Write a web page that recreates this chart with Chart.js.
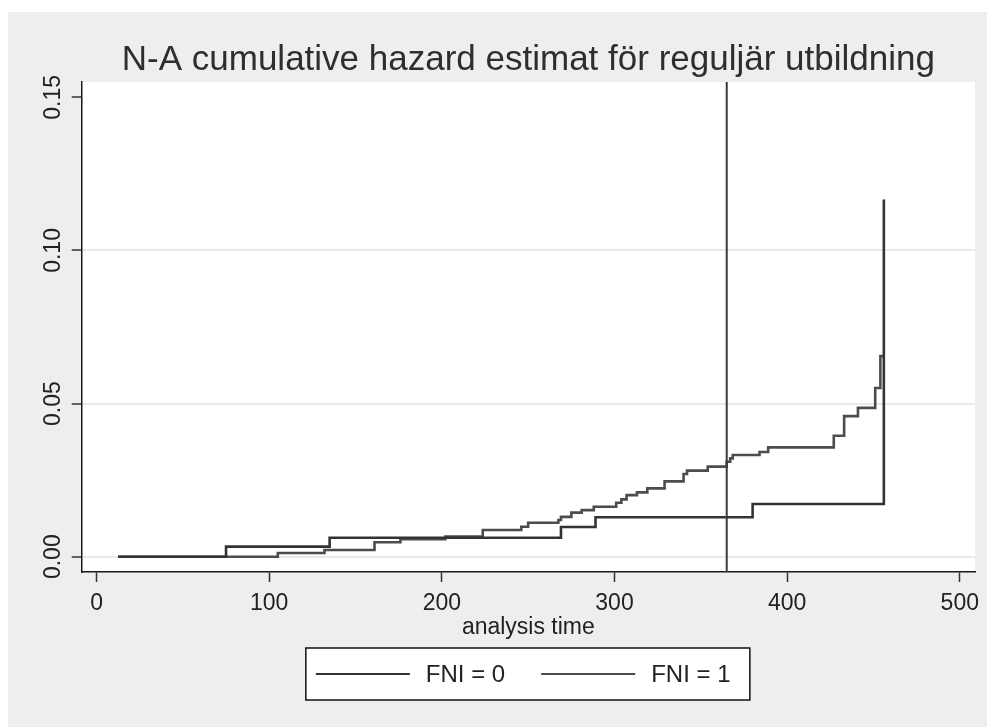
<!DOCTYPE html>
<html>
<head>
<meta charset="utf-8">
<script src="https://cdn.jsdelivr.net/npm/chart.js@4"></script>
<style>
  html, body { margin: 0; padding: 0; background: #ffffff; }
  canvas { display: block; }
</style>
</head>
<body>
<canvas id="c" width="987" height="727"></canvas>
<script>
// ---- data ----
const chartTitle = 'N-A cumulative hazard estimat för reguljär utbildning';
const xAxisTitle = 'analysis time';
const seriesLabels = ['FNI = 0', 'FNI = 1'];

const fni0Time = [12.5, 75, 135, 269, 289, 380, 456];
const fni0Haz  = [0, 0.0033, 0.0062, 0.0097, 0.0129, 0.0172, 0.1166];

const fni1Time = [12.5, 105, 132, 161, 176, 202, 223.7, 246, 250, 267.5, 269, 275, 281, 288,
                  301, 304, 307, 313, 319, 329, 340, 342, 354, 365, 367, 368.5, 384, 389,
                  427, 433, 441, 451, 454, 456];
const fni1Haz  = [0, 0.0012, 0.0022, 0.0047, 0.0057, 0.0066, 0.0087, 0.0098, 0.0111, 0.0120, 0.0130, 0.0144, 0.0152, 0.0163,
                  0.0176, 0.0187, 0.0201, 0.0210, 0.0223, 0.0246, 0.0270, 0.0281, 0.0294, 0.0310, 0.0321, 0.0332, 0.0342, 0.0357,
                  0.0395, 0.0459, 0.0486, 0.0551, 0.0655, 0.0655];

const refLineX = 365;
const xTicks = [0, 100, 200, 300, 400, 500];
const yTicks = [0, 0.05, 0.10, 0.15];
const xRange = [-8.6, 508.8];
const yRange = [-0.005, 0.155];

// ---- build ----
const toPts = (xs, ys) => xs.map((x, i) => ({x: x, y: ys[i]}));
const FONT = '"Liberation Sans", Arial, Helvetica, sans-serif';
const col0 = '#333333';
const col1 = '#4c4c4c';

const bgPlugin = {
  id: 'bg',
  beforeDraw(chart) {
    const ctx = chart.ctx, a = chart.chartArea;
    ctx.save();
    ctx.fillStyle = '#ffffff';
    ctx.fillRect(0, 0, chart.width, chart.height);
    ctx.fillStyle = '#eeeeee';
    ctx.fillRect(8, 12, chart.width - 8, chart.height - 12);
    ctx.fillStyle = '#ffffff';
    ctx.fillRect(a.left, a.top, a.right - a.left, a.bottom - a.top);
    ctx.restore();
  }
};

const legendPlugin = {
  id: 'boxLegend',
  afterDraw(chart) {
    const ctx = chart.ctx, a = chart.chartArea;
    const cx = (a.left + a.right) / 2;
    const boxW = 444, boxH = 52;
    const left = cx - boxW / 2 - 0.5, top = a.bottom + 76;
    ctx.save();
    ctx.fillStyle = '#ffffff';
    ctx.fillRect(left, top, boxW, boxH);
    ctx.strokeStyle = '#111111';
    ctx.lineWidth = 1.5;
    ctx.strokeRect(left, top, boxW, boxH);
    ctx.font = '24px ' + FONT;
    ctx.textBaseline = 'middle';
    ctx.fillStyle = '#222222';
    let x = left + 10;
    const y = top + boxH / 2;
    const items = chart.data.datasets.filter(d => d.inLegend);
    items.forEach((d, i) => {
      ctx.strokeStyle = d.borderColor;
      ctx.lineWidth = 2.2;
      ctx.beginPath();
      ctx.moveTo(x, y);
      ctx.lineTo(x + 94, y);
      ctx.stroke();
      x += 94 + 16;
      ctx.fillText(d.label, x, y + 1);
      x += ctx.measureText(d.label).width + 36;
    });
    ctx.restore();
  }
};

new Chart(document.getElementById('c'), {
  type: 'line',
  data: {
    datasets: [
      { label: 'xline', data: [{x: refLineX, y: yRange[0]}, {x: refLineX, y: yRange[1]}],
        borderColor: '#3a3a3a', borderWidth: 2, pointRadius: 0, inLegend: false },
      { label: seriesLabels[0], data: toPts(fni0Time, fni0Haz), stepped: true,
        borderColor: col0, borderWidth: 2.6, pointRadius: 0, inLegend: true },
      { label: seriesLabels[1], data: toPts(fni1Time, fni1Haz), stepped: true,
        borderColor: col1, borderWidth: 2.6, pointRadius: 0, inLegend: true }
    ]
  },
  options: {
    responsive: false,
    animation: false,
    devicePixelRatio: 1,
    layout: { padding: { left: 0, right: 12, top: 0, bottom: 0 } },
    plugins: {
      legend: { display: false },
      tooltip: { enabled: false },
      title: {
        display: true, text: chartTitle, fullSize: false, color: '#2e2e2e',
        font: { family: FONT, size: 35, weight: 'normal' },
        padding: { top: 39, bottom: 1 }
      }
    },
    scales: {
      x: {
        type: 'linear', min: xRange[0], max: xRange[1],
        afterBuildTicks: s => { s.ticks = xTicks.map(v => ({value: v})); },
        afterFit: s => { s.height = 155; },
        ticks: { color: '#222', font: { family: FONT, size: 23 }, padding: 7.5, maxRotation: 0, autoSkip: false,
                 callback: v => String(v) },
        grid: { drawOnChartArea: false, drawTicks: true, tickLength: 10, tickColor: '#333', tickWidth: 1.5 },
        border: { display: true, color: '#1a1a1a', width: 1.5 },
        title: { display: true, text: xAxisTitle, color: '#222', font: { family: FONT, size: 23 },
                 padding: { top: 0, bottom: 86 } }
      },
      y: {
        type: 'linear', min: yRange[0], max: yRange[1],
        afterBuildTicks: s => { s.ticks = yTicks.map(v => ({value: v})); },
        afterFit: s => { s.width = 81.7; },
        ticks: { color: '#222', font: { family: FONT, size: 23 }, padding: -4, minRotation: 90, maxRotation: 90,
                 crossAlign: 'center', autoSkip: false, callback: v => v.toFixed(2) },
        grid: { drawOnChartArea: true, drawTicks: true, tickLength: 10, tickColor: '#333', tickWidth: 1.5,
                color: c => (c.tick && Math.abs(c.tick.value - 0.15) < 1e-9) ? 'rgba(0,0,0,0)' : '#e9e9e9',
                lineWidth: 2 },
        border: { display: true, color: '#1a1a1a', width: 1.5 }
      }
    }
  },
  plugins: [bgPlugin, legendPlugin]
});
</script>
</body>
</html>
